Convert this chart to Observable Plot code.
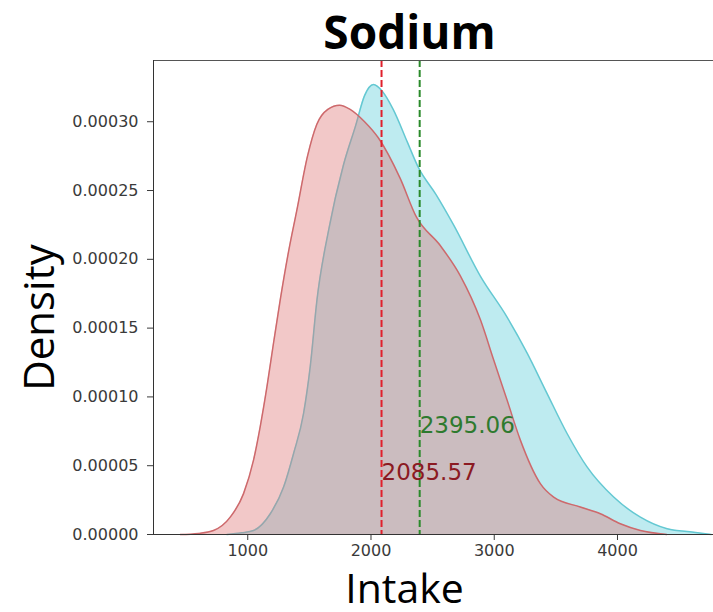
<!DOCTYPE html>
<html><head><meta charset="utf-8">
<script src="https://cdn.jsdelivr.net/npm/d3@7"></script>
<script src="https://cdn.jsdelivr.net/npm/@observablehq/plot@0.6"></script>
<style>body{margin:0;background:#fff}</style>
</head><body><div id="chart"></div>
<script>
// Density curve of the red group
const redIntake = [452, 600, 722, 858, 966, 1047, 1101, 1156, 1209, 1264, 1330, 1397, 1485, 1560, 1650, 1745, 1831, 1948, 2062, 2236, 2367, 2562, 2725, 2888, 2995, 3104, 3212, 3374, 3482, 3698, 3861, 4023, 4186, 4400];
const redDensity = [0, 0.0000008, 0.0000029, 0.0000126, 0.0000297, 0.000054, 0.0000783, 0.0001074, 0.000139, 0.0001707, 0.000205, 0.000235, 0.000275, 0.000298, 0.000309, 0.000312, 0.000309, 0.0003, 0.000288, 0.000259, 0.000231, 0.00021, 0.000188, 0.000156, 0.000127, 0.0000977, 0.0000686, 0.000037, 0.0000272, 0.00002, 0.0000151, 0.0000078, 0.0000029, 0];
// Density curve of the cyan group
const cyanIntake = [831, 950, 1047, 1183, 1291, 1372, 1453, 1507, 1562, 1658, 1775, 1875, 1948, 2020, 2093, 2180, 2296, 2383, 2528, 2670, 2886, 3104, 3266, 3428, 3591, 3753, 3969, 4186, 4403, 4618, 4760];
const cyanDensity = [0, 0.0000012, 0.0000029, 0.0000151, 0.0000345, 0.0000589, 0.000088, 0.000122, 0.0001707, 0.000222, 0.000268, 0.000297, 0.000319, 0.000327, 0.000322, 0.000309, 0.000285, 0.000267, 0.000247, 0.000225, 0.000188, 0.000158, 0.000132, 0.0001026, 0.0000734, 0.0000491, 0.0000272, 0.0000126, 0.0000042, 0.0000017, 0];
// Means
const meanValues = [2085.57, 2395.06];
const meanLabels = ["2085.57", "2395.06"];
// Ticks and domains
const xTicks = [1000, 2000, 3000, 4000];
const yTicks = [0, 0.00005, 0.0001, 0.00015, 0.0002, 0.00025, 0.0003];
const xDomain = [235.4, 4779];
const yDomain = [0, 0.0003445];

const red = redIntake.map((x, i) => ({x, y: redDensity[i]}));
const cyan = cyanIntake.map((x, i) => ({x, y: cyanDensity[i]}));
const means = [
  {x: meanValues[0], label: meanLabels[0], y: 0.0000394, line: "#e0202c", text: "#8b1a22"},
  {x: meanValues[1], label: meanLabels[1], y: 0.0000737, line: "#2a8a2a", text: "#2e7a2e"}
];

const chart = Plot.plot({
  width: 713, height: 612,
  marginTop: 60, marginLeft: 153, marginRight: 0, marginBottom: 78,
  style: {fontFamily: "DejaVu Sans", fontSize: "16px", background: "#fff", color: "#3a3a3a"},
  x: {domain: xDomain, ticks: xTicks, tickSize: 6, tickPadding: 4, label: null, tickFormat: d3.format("d")},
  y: {domain: yDomain, ticks: yTicks, tickFormat: d3.format(".5f"), tickSize: 6, tickPadding: 9, label: null},
  marks: [
    Plot.areaY(cyan, {x: "x", y: "y", curve: "monotone-x", fill: "rgb(92,205,217)", fillOpacity: 0.4}),
    Plot.lineY(cyan, {x: "x", y: "y", curve: "monotone-x", stroke: "rgb(100,200,210)", strokeWidth: 1.5}),
    Plot.areaY(red, {x: "x", y: "y", curve: "monotone-x", fill: "rgb(222,117,117)", fillOpacity: 0.4}),
    Plot.lineY(red, {x: "x", y: "y", curve: "monotone-x", stroke: "rgb(205,105,108)", strokeWidth: 1.5}),
    Plot.ruleX(means, {x: "x", stroke: "line", strokeWidth: 2, strokeDasharray: "7,3"}),
    Plot.text(means, {x: "x", y: "y", text: "label", fill: "text", textAnchor: "start", lineAnchor: "bottom", fontSize: 23, fontFamily: "DejaVu Sans"}),
    Plot.ruleY([yDomain[0]], {stroke: "#333"}),
    Plot.ruleY([yDomain[1]], {stroke: "#555"}),
    Plot.ruleX([xDomain[0]], {stroke: "#333"}),
    Plot.text(["Sodium"], {frameAnchor: "top", dx: -24, dy: -12, lineAnchor: "bottom", fontSize: 46, fontWeight: "bold", fontFamily: "Open Sans", fill: "#000"}),
    Plot.text(["Density"], {frameAnchor: "left", rotate: -90, dx: -113, dy: 20, lineAnchor: "middle", textAnchor: "middle", fontSize: 42, fontFamily: "Open Sans", fill: "#000"}),
    Plot.text(["Intake"], {frameAnchor: "bottom", dx: -29, dy: 68, lineAnchor: "bottom", fontSize: 41, fontFamily: "Open Sans", fill: "#000"})
  ]
});
document.getElementById("chart").appendChild(chart);
</script>
</body></html>
